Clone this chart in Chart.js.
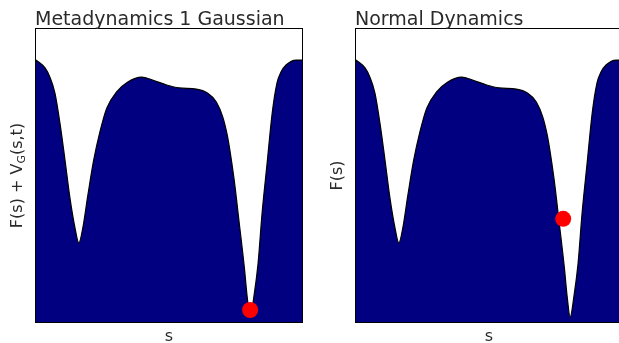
<!DOCTYPE html>
<html>
<head>
<meta charset="utf-8">
<script src="https://cdn.jsdelivr.net/npm/chart.js@4.4.1/dist/chart.umd.min.js"></script>
<style>
  html, body { margin: 0; padding: 0; background: #fff; overflow: hidden; }
  body { width: 619px; height: 343px; position: relative; }
  .panel { position: absolute; top: 0; width: 310px; height: 343px; }
  #p1 { left: 0; }
  #p2 { left: 320px; }
</style>
</head>
<body>
<div class="panel" id="p1"><canvas id="c1" width="310" height="343"></canvas></div>
<div class="panel" id="p2"><canvas id="c2" width="310" height="343"></canvas></div>
<script>
// Collective variable s (normalised) and the free-energy profile F(s)
const sValues = [0, 0.034, 0.052, 0.071, 0.090, 0.109, 0.127, 0.146, 0.161, 0.176, 0.195, 0.217,
  0.240, 0.266, 0.303, 0.345, 0.397, 0.438, 0.491, 0.539, 0.603, 0.644, 0.678, 0.702, 0.719,
  0.727, 0.745, 0.764, 0.783, 0.794, 0.805, 0.820, 0.835, 0.850, 0.869, 0.888, 0.906, 0.921,
  0.940, 0.978, 1.0];
const freeEnergy = [0.894, 0.867, 0.836, 0.782, 0.679, 0.553, 0.427, 0.324, 0.270, 0.321, 0.433, 0.553,
  0.648, 0.730, 0.785, 0.819, 0.836, 0.826, 0.809, 0.799, 0.795, 0.782, 0.751, 0.700, 0.638,
  0.597, 0.485, 0.338, 0.188, 0.085, 0.017, 0.092, 0.201, 0.372, 0.543, 0.713, 0.816, 0.853,
  0.877, 0.894, 0.894];

// Walker position in each simulation
const metaWalker = { s: 0.805, f: 0.041 };
const normalWalker = { s: 0.779, f: 0.352 };

const panelTitles = ['Metadynamics 1 Gaussian', 'Normal Dynamics'];

const profile = sValues.map((s, i) => ({ x: s, y: freeEnergy[i] }));

// Titles, axis labels and the frame drawn around the plotting area
const decorations = {
  id: 'decorations',
  afterDatasetsDraw(chart, args, opts) {
    const { ctx, chartArea: a } = chart;
    ctx.save();
    ctx.strokeStyle = '#000';
    ctx.lineWidth = 1;
    ctx.strokeRect(a.left - 0.5, a.top - 0.5, a.right - a.left + 1, a.bottom - a.top + 1);

    ctx.fillStyle = '#2a2a2a';
    ctx.font = '19px "DejaVu Sans"';
    ctx.textAlign = 'left';
    ctx.textBaseline = 'alphabetic';
    ctx.fillText(opts.title, a.left - 1, a.top - 4);

    // x label
    ctx.font = '16px "DejaVu Sans"';
    ctx.textAlign = 'center';
    ctx.textBaseline = 'middle';
    ctx.fillText('s', (a.left + a.right) / 2, a.bottom + 15);

    // y label, rotated, with an optional subscript
    ctx.translate(a.left - 18, (a.top + a.bottom) / 2);
    ctx.rotate(-Math.PI / 2);
    ctx.textBaseline = 'middle';
    ctx.textAlign = 'left';
    const parts = opts.ylabel;
    let total = 0;
    parts.forEach(p => {
      ctx.font = (p.sub ? '11px' : '16px') + ' "DejaVu Sans"';
      total += ctx.measureText(p.t).width;
    });
    let x = -total / 2;
    parts.forEach(p => {
      ctx.font = (p.sub ? '11px' : '16px') + ' "DejaVu Sans"';
      ctx.fillText(p.t, x, p.sub ? 4 : 0);
      x += ctx.measureText(p.t).width;
    });
    ctx.restore();
  }
};

function makePanel(canvasId, title, ylabel, walker) {
  return new Chart(document.getElementById(canvasId), {
    type: 'line',
    data: {
      datasets: [
        {
          data: [{ x: walker.s, y: walker.f }],
          showLine: false,
          pointRadius: 8,
          pointHoverRadius: 8,
          pointBackgroundColor: '#ff0000',
          pointBorderWidth: 0,
          clip: false,
          order: 0
        },
        {
          data: profile,
          borderColor: '#000000',
          borderWidth: 1.2,
          backgroundColor: '#000080',
          fill: 'start',
          pointRadius: 0,
          cubicInterpolationMode: 'monotone',
          order: 1
        }
      ]
    },
    options: {
      responsive: false,
      animation: false,
      events: [],
      layout: { padding: { left: 36, right: 7, top: 29, bottom: 21 } },
      scales: {
        x: { type: 'linear', min: 0, max: 1, display: false },
        y: { type: 'linear', min: 0, max: 1, display: false }
      },
      plugins: {
        legend: { display: false },
        tooltip: { enabled: false },
        decorations: { title, ylabel }
      }
    },
    plugins: [decorations]
  });
}

makePanel('c1', panelTitles[0],
  [{ t: 'F(s) + V' }, { t: 'G', sub: true }, { t: '(s,t)' }], metaWalker);
makePanel('c2', panelTitles[1], [{ t: 'F(s)' }], normalWalker);
</script>
</body>
</html>
